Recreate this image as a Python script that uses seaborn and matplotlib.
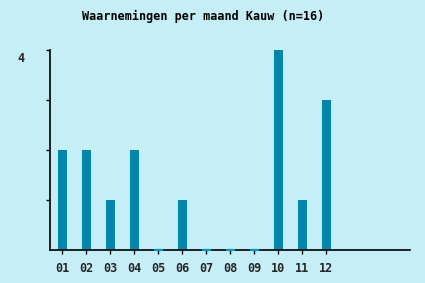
import matplotlib
matplotlib.use("Agg")
import matplotlib.pyplot as plt
import seaborn as sns
import pandas as pd
from matplotlib.transforms import ScaledTranslation

months = ["01", "02", "03", "04", "05", "06", "07", "08", "09", "10", "11", "12"]
counts = [2, 2, 1, 2, 0, 1, 0, 0, 0, 4, 1, 3]
title = "Waarnemingen per maand Kauw (n=16)"

bg = "#C6EEF7"
bar_color = "#0086A8"
zero_color = "#0099BB"

sns.set_style("white")
plt.rcParams["font.family"] = ["DejaVu Sans Mono", "DejaVu Sans"]
plt.rcParams["font.weight"] = "bold"

df = pd.DataFrame({"maand": months, "aantal": counts})

fig = plt.figure(figsize=(4.25, 2.83), dpi=100, facecolor=bg)
ax = fig.add_axes([50 / 425, 33 / 283, 360 / 425, 200 / 283])
ax.set_facecolor(bg)

sns.barplot(data=df, x="maand", y="aantal", color=bar_color, saturation=1,
            width=0.375, ax=ax)

for p, v in zip(ax.patches, counts):
    p.set_linewidth(0)
    if v == 0:
        p.set_edgecolor(zero_color)
        p.set_facecolor(zero_color)
        p.set_linewidth(1.6)
        p.set_zorder(3)
        p.set_clip_on(False)

ax.set_xlim(-0.5, 14.5)
ax.set_ylim(0, 4)
ax.set_yticks([1, 2, 3, 4])
ax.set_yticklabels(["", "", "", "4"])
ax.set_xlabel("")
ax.set_ylabel("")

for s in ["top", "right"]:
    ax.spines[s].set_visible(False)
for s in ["left", "bottom"]:
    ax.spines[s].set_color("black")
    ax.spines[s].set_linewidth(1.2)

ax.tick_params(axis="y", direction="out", length=3, width=1, color="black",
               pad=15, labelsize=8.5, left=True)
ax.tick_params(axis="x", direction="out", length=3, width=1, color="black",
               pad=5.5, labelsize=8.5, bottom=True)
for lab in ax.get_yticklabels():
    lab.set_fontweight("bold")
    lab.set_transform(lab.get_transform() + ScaledTranslation(0, -0.07, fig.dpi_scale_trans))
for lab in ax.get_xticklabels():
    lab.set_fontweight("bold")

fig.text(203 / 425, 1 - 16 / 283, title, ha="center", va="center",
         fontsize=8.5, fontweight="bold", color="black")

fig.savefig("out.png", dpi=100, facecolor=bg)
